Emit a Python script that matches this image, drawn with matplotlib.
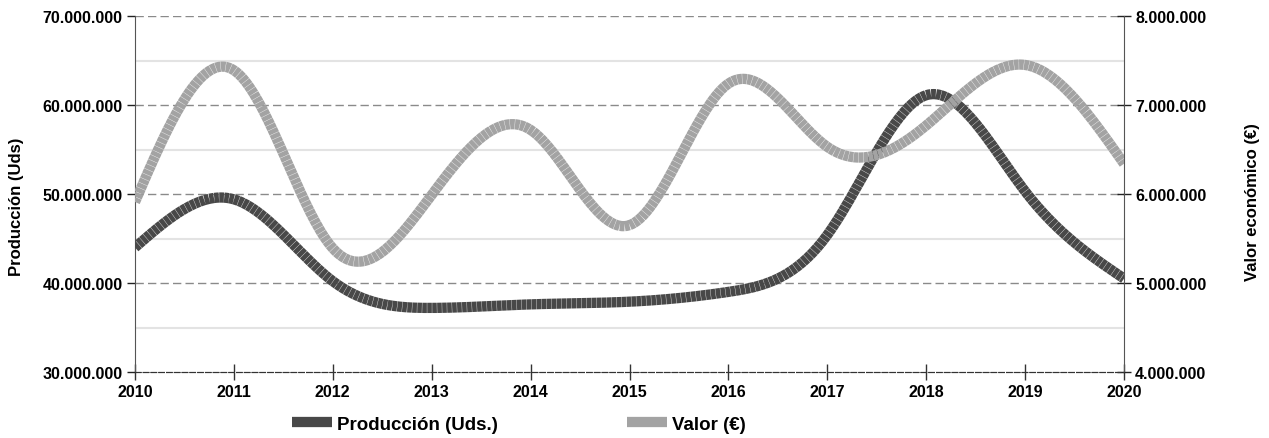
import numpy as np
import matplotlib.pyplot as plt
from matplotlib.ticker import FuncFormatter, MultipleLocator
from matplotlib.lines import Line2D

plt.rcParams['font.family'] = ['Liberation Sans', 'DejaVu Sans']
plt.rcParams['font.weight'] = 'bold'

# datos
years = [2010, 2011, 2012, 2013, 2014, 2015, 2016, 2017, 2018, 2019, 2020]
produccion = [44.0e6, 49.4e6, 40.2e6, 37.2e6, 37.6e6, 37.9e6, 39.0e6, 45.4e6, 61.1e6, 50.3e6, 40.5e6]
valor = [5.91e6, 7.39e6, 5.39e6, 5.99e6, 6.72e6, 5.65e6, 7.24e6, 6.53e6, 6.77e6, 7.45e6, 6.34e6]

col_prod = '#484848'
col_valor = '#a3a3a3'


def natural_spline(x, y, n=40):
    # spline cubico natural (paso uniforme) solo para suavizar el dibujo
    x = np.asarray(x, float)
    y = np.asarray(y, float)
    k = len(y)
    A = np.zeros((k, k))
    b = np.zeros(k)
    A[0, 0] = A[-1, -1] = 1
    for i in range(1, k - 1):
        A[i, i - 1], A[i, i], A[i, i + 1] = 1, 4, 1
        b[i] = 6 * (y[i + 1] - 2 * y[i] + y[i - 1])
    M = np.linalg.solve(A, b)
    xs, ys = [], []
    for i in range(k - 1):
        u = np.linspace(0, 1, n, endpoint=(i == k - 2))
        s = ((1 - u) * y[i] + u * y[i + 1]
             + ((1 - u) ** 3 - (1 - u)) * M[i] / 6
             + (u ** 3 - u) * M[i + 1] / 6)
        xs.append(x[i] + u)
        ys.append(s)
    return np.concatenate(xs), np.concatenate(ys)


def miles(v, pos):
    return f"{int(round(v)):,}".replace(',', '.')


fig = plt.figure(figsize=(12.69, 4.39), dpi=100)
ax = fig.add_axes([135 / 1269, 1 - 373 / 439, (1124 - 135) / 1269, (373 - 17) / 439])
ax2 = ax.twinx()

ax.set_xlim(2010, 2020)
ax.set_ylim(30e6, 70e6)
ax2.set_ylim(4e6, 8e6)

# rejilla
for v in [35e6, 45e6, 55e6, 65e6]:
    ax.axhline(v, color='#e3e3e3', lw=1.5, zorder=0)
for v in [40e6, 50e6, 60e6, 70e6]:
    ax.axhline(v, color='#8a8a8a', lw=1, ls=(0, (6, 3)), zorder=0)

xs, ys = natural_spline(years, produccion)
ax.plot(xs, ys, color=col_prod, lw=7.4, ls=(0, (0.45, 0.035)), zorder=3)
xs, ys = natural_spline(years, valor)
ax2.plot(xs, ys, color=col_valor, lw=7.4, ls=(0, (0.45, 0.035)), zorder=3)

ax.xaxis.set_major_locator(MultipleLocator(1))
ax.yaxis.set_major_locator(MultipleLocator(10e6))
ax2.yaxis.set_major_locator(MultipleLocator(1e6))
ax.yaxis.set_major_formatter(FuncFormatter(miles))
ax2.yaxis.set_major_formatter(FuncFormatter(miles))
ax.xaxis.set_major_formatter(FuncFormatter(lambda v, p: f"{int(v)}"))

ax.tick_params(axis='x', direction='inout', length=11, width=1, color='#333333',
               labelsize=11.5, pad=3)
ax.tick_params(axis='y', direction='out', length=6, width=1, color='#222222',
               labelsize=11.5, pad=3)
ax2.tick_params(axis='y', direction='inout', length=10, width=1, color='#222222',
                labelsize=11.5, pad=3)

for a in (ax, ax2):
    a.spines['top'].set_visible(False)
    a.spines['left'].set_color('#555555')
    a.spines['right'].set_color('#555555')
    a.spines['bottom'].set_color('#333333')
    a.spines['bottom'].set_linestyle((0, (5, 2)))
ax2.spines['left'].set_visible(False)
ax.spines['right'].set_visible(False)

fig.text(16.5 / 1269, 1 - 207 / 439, 'Producción (Uds)', rotation=90,
         ha='center', va='center', fontsize=12, fontweight='bold')
fig.text(1253 / 1269, 1 - 202 / 439, 'Valor económico (€)', rotation=90,
         ha='center', va='center', fontsize=12, fontweight='bold')

handles = [Line2D([], [], color=col_prod, lw=7.4, solid_capstyle='butt'),
           Line2D([], [], color=col_valor, lw=7.4, solid_capstyle='butt')]
fig.legend(handles, ['Producción (Uds.)', 'Valor (€)'], loc='center',
           bbox_to_anchor=(519 / 1269, 1 - 425 / 439), ncol=2, frameon=False,
           handlelength=2.13, handletextpad=0.27, columnspacing=6.9,
           prop={'weight': 'bold', 'size': 13.5})

fig.savefig('out.png', dpi=100)
